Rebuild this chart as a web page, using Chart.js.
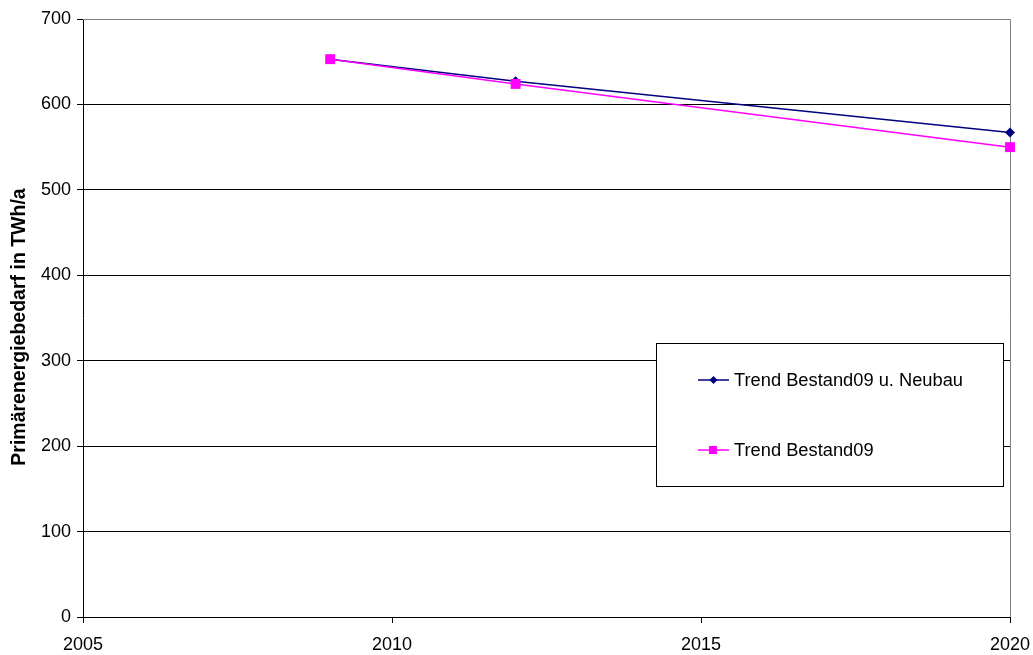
<!DOCTYPE html>
<html>
<head>
<meta charset="utf-8">
<script src="https://cdn.jsdelivr.net/npm/chart.js@4"></script>
<style>
  html, body { margin: 0; padding: 0; background: #fff; }
  #wrap { width: 1033px; height: 655px; }
</style>
</head>
<body>
<div id="wrap"><canvas id="chart" width="1033" height="655"></canvas></div>
<script>
var years = [2009, 2012, 2020];
var trendNeubau = [653, 627, 567];
var trendBestand = [653, 624, 550];
var seriesNames = ["Trend Bestand09 u. Neubau", "Trend Bestand09"];
var yTitle = "Primärenergiebedarf in TWh/a";
var yTicks = [0, 100, 200, 300, 400, 500, 600, 700];
var xTicks = [2005, 2010, 2015, 2020];

function toPoints(xs, ys) {
    return xs.map(function(x, i) { return { x: x, y: ys[i] }; });
}

var font = "'Liberation Sans', Arial, sans-serif";

// gray frame on top and right of plot area, axis title and the boxed legend
var framePlugin = {
    id: "frame",
    beforeDatasetsDraw: function(chart) {
        var a = chart.chartArea, ctx = chart.ctx;
        ctx.save();
        ctx.strokeStyle = "#808080";
        ctx.lineWidth = 1;
        ctx.beginPath();
        ctx.moveTo(a.left, a.top + 0.5);
        ctx.lineTo(a.right + 0.5, a.top + 0.5);
        ctx.lineTo(a.right + 0.5, a.bottom);
        ctx.stroke();
        ctx.restore();
    },
    afterDraw: function(chart) {
        var ctx = chart.ctx;
        var a = chart.chartArea;

        ctx.save();
        ctx.translate(20, (a.top + a.bottom) / 2 + 9);
        ctx.rotate(-Math.PI / 2);
        ctx.font = "bold 19.5px " + font;
        ctx.fillStyle = "#000";
        ctx.textAlign = "center";
        ctx.textBaseline = "middle";
        ctx.fillText(yTitle, 0, 0);
        ctx.restore();

        var box = { x: 656.5, y: 343.5, w: 347, h: 143 };
        ctx.save();
        ctx.fillStyle = "#fff";
        ctx.fillRect(box.x, box.y, box.w, box.h);
        ctx.strokeStyle = "#000";
        ctx.lineWidth = 1;
        ctx.strokeRect(box.x, box.y, box.w, box.h);
        ctx.font = "18.3px " + font;
        ctx.textBaseline = "middle";
        var rows = [380, 450];
        chart.data.datasets.forEach(function(ds, i) {
            var y = rows[i];
            ctx.strokeStyle = ds.borderColor;
            ctx.lineWidth = 1.5;
            ctx.beginPath();
            ctx.moveTo(698, y);
            ctx.lineTo(729, y);
            ctx.stroke();
            ctx.fillStyle = ds.borderColor;
            if (ds.pointStyle === "rect") {
                ctx.fillRect(709, y - 4, 8, 8);
            } else {
                ctx.beginPath();
                ctx.moveTo(713.5, y - 4);
                ctx.lineTo(717.5, y);
                ctx.lineTo(713.5, y + 4);
                ctx.lineTo(709.5, y);
                ctx.closePath();
                ctx.fill();
            }
            ctx.fillStyle = "#000";
            ctx.fillText(seriesNames[i], 734, y + 1);
        });
        ctx.restore();
    }
};

var ctx = document.getElementById("chart").getContext("2d");
var chart = new Chart(ctx, {
    type: "line",
    data: {
        datasets: [{
            label: seriesNames[0],
            data: toPoints(years, trendNeubau),
            borderColor: "#000080",
            backgroundColor: "#000080",
            borderWidth: 1.5,
            pointStyle: "rectRot",
            pointRadius: 5,
            pointBorderWidth: 0,
            clip: false,
            order: 1
        }, {
            label: seriesNames[1],
            data: toPoints(years, trendBestand),
            borderColor: "#FF00FF",
            backgroundColor: "#FF00FF",
            borderWidth: 1.5,
            pointStyle: "rect",
            pointRadius: 7,
            pointBorderWidth: 0,
            clip: false,
            order: 0
        }]
    },
    options: {
        responsive: false,
        animation: false,
        devicePixelRatio: 1,
        layout: { autoPadding: false, padding: { top: 19, right: 23, left: 0, bottom: 0 } },
        plugins: {
            legend: { display: false },
            tooltip: { enabled: false }
        },
        scales: {
            x: {
                type: "linear",
                min: xTicks[0],
                max: xTicks[xTicks.length - 1],
                afterBuildTicks: function(s) {
                    s.ticks = xTicks.map(function(v) { return { value: v }; });
                },
                afterFit: function(s) {
                    s.height = 38;
                    s.paddingLeft = 0;
                    s.paddingRight = 0;
                },
                grid: {
                    drawOnChartArea: false,
                    drawTicks: true,
                    tickLength: 6,
                    tickColor: "#000"
                },
                border: { color: "#000", width: 1 },
                ticks: {
                    color: "#000",
                    font: { family: font, size: 18 },
                    padding: 11,
                    maxRotation: 0,
                    callback: function(v) { return String(v); }
                }
            },
            y: {
                min: 0,
                max: 700,
                afterBuildTicks: function(s) {
                    s.ticks = yTicks.map(function(v) { return { value: v }; });
                },
                afterFit: function(s) { s.width = 83; },
                grid: {
                    color: function(c) { return c.tick && c.tick.value === 700 ? "#808080" : "#000"; },
                    tickColor: "#000",
                    tickLength: 6,
                    lineWidth: 1
                },
                border: { color: "#000", width: 1 },
                ticks: {
                    color: "#000",
                    font: { family: font, size: 18 },
                    padding: 6
                },
                title: { display: false }
            }
        }
    },
    plugins: [framePlugin]
});
</script>
</body>
</html>
